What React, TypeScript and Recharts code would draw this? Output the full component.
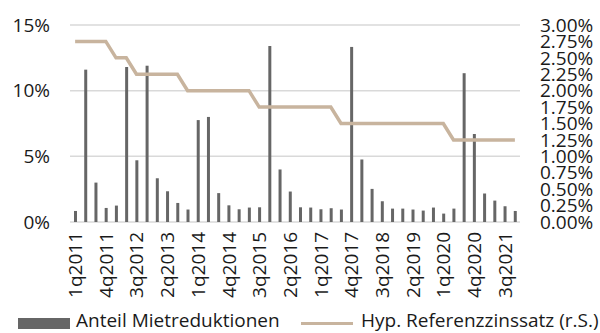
import React from "react";
import { Bar, CartesianGrid, ComposedChart, Legend, Line, XAxis, YAxis } from "recharts";

const quarters = [
  "1q2011", "2q2011", "3q2011", "4q2011",
  "1q2012", "2q2012", "3q2012", "4q2012",
  "1q2013", "2q2013", "3q2013", "4q2013",
  "1q2014", "2q2014", "3q2014", "4q2014",
  "1q2015", "2q2015", "3q2015", "4q2015",
  "1q2016", "2q2016", "3q2016", "4q2016",
  "1q2017", "2q2017", "3q2017", "4q2017",
  "1q2018", "2q2018", "3q2018", "4q2018",
  "1q2019", "2q2019", "3q2019", "4q2019",
  "1q2020", "2q2020", "3q2020", "4q2020",
  "1q2021", "2q2021", "3q2021", "4q2021"
];

// Share of rent reductions, % (left axis)
const rentReductions = [
  0.84, 11.6, 3.0, 1.07,
  1.25, 11.8, 4.7, 11.9,
  3.33, 2.34, 1.45, 0.95,
  7.76, 8.0, 2.2, 1.27,
  0.97, 1.1, 1.12, 13.4,
  4.0, 2.32, 1.12, 1.1,
  0.97, 1.05, 0.95, 13.33,
  4.76, 2.52, 1.58, 1.02,
  1.02, 0.95, 0.87, 1.1,
  0.64, 1.02, 11.33, 6.7,
  2.17, 1.63, 1.2, 0.84
];

// Reference mortgage rate, % (right axis)
const referenceRate = [
  2.75, 2.75, 2.75, 2.75,
  2.5, 2.5, 2.25, 2.25,
  2.25, 2.25, 2.25, 2.0,
  2.0, 2.0, 2.0, 2.0,
  2.0, 2.0, 1.75, 1.75,
  1.75, 1.75, 1.75, 1.75,
  1.75, 1.75, 1.5, 1.5,
  1.5, 1.5, 1.5, 1.5,
  1.5, 1.5, 1.5, 1.5,
  1.5, 1.25, 1.25, 1.25,
  1.25, 1.25, 1.25, 1.25
];

const leftTicks = [0, 5, 10, 15];
const rightTicks = [0, 0.25, 0.5, 0.75, 1, 1.25, 1.5, 1.75, 2, 2.25, 2.5, 2.75, 3];

const data = quarters.map((q, i) => ({
  q,
  share: rentReductions[i],
  rate: referenceRate[i]
}));

const FONT = "'Open Sans', sans-serif";
const BAR_COLOR = "#666666";
const LINE_COLOR = "#c8b49e";
const tickStyle = { fontSize: 19, fill: "#1a1a1a", fontFamily: FONT };

function QuarterTick(props: any) {
  const { x, y, payload } = props;
  return (
    <text
      transform={`translate(${x},${y}) rotate(-90)`}
      textAnchor="end"
      dominantBaseline="central"
      style={tickStyle}
    >
      {payload.value}
    </text>
  );
}

function ChartLegend() {
  return (
    <div style={{ position: "relative", width: 600, height: 30, fontFamily: FONT, fontSize: 19, color: "#1a1a1a" }}>
      <div style={{ position: "absolute", left: 18, top: 15, width: 52, height: 11, background: BAR_COLOR }} />
      <div style={{ position: "absolute", left: 76, top: 5, height: 25, lineHeight: "25px", whiteSpace: "nowrap" }}>Anteil Mietreduktionen</div>
      <div style={{ position: "absolute", left: 301, top: 19, width: 52, height: 3, background: LINE_COLOR }} />
      <div style={{ position: "absolute", left: 361, top: 5, height: 25, lineHeight: "25px", whiteSpace: "nowrap" }}>Hyp. Referenzzinssatz (r.S.)</div>
    </div>
  );
}

export default function App() {
  return (
    <div style={{ position: "absolute", left: 0, top: 0, width: 600, height: 333, background: "#fff" }}>
      <ComposedChart width={600} height={333} data={data} margin={{ top: 25, right: 0, left: 10, bottom: 0 }}>
        <CartesianGrid yAxisId="left" vertical={false} stroke="#d9d9d9" strokeWidth={1.5} />
        <XAxis
          dataKey="q"
          interval={2}
          height={81}
          axisLine={false}
          tickLine={false}
          tick={<QuarterTick />}
          tickMargin={4}
        />
        <YAxis
          yAxisId="left"
          domain={[0, 15]}
          ticks={leftTicks}
          width={60}
          axisLine={false}
          tickLine={false}
          tickMargin={14}
          tick={tickStyle}
          tickFormatter={(v) => `${v}%`}
        />
        <YAxis
          yAxisId="right"
          orientation="right"
          domain={[0, 3]}
          ticks={rightTicks}
          interval={0}
          width={80}
          axisLine={false}
          tickLine={false}
          tickMargin={14}
          tick={{ ...tickStyle, textAnchor: "start" }}
          tickFormatter={(v) => `${v.toFixed(2)}%`}
        />
        <Legend verticalAlign="bottom" height={30} content={() => <ChartLegend />} wrapperStyle={{ left: 0, bottom: 0, width: 600, height: 30 }} />
        <Bar yAxisId="left" dataKey="share" fill={BAR_COLOR} barSize={3} isAnimationActive={false} />
        <Line
          yAxisId="right"
          type="linear"
          dataKey="rate"
          stroke={LINE_COLOR}
          strokeWidth={3.5}
          dot={false}
          activeDot={false}
          isAnimationActive={false}
        />
      </ComposedChart>
    </div>
  );
}
